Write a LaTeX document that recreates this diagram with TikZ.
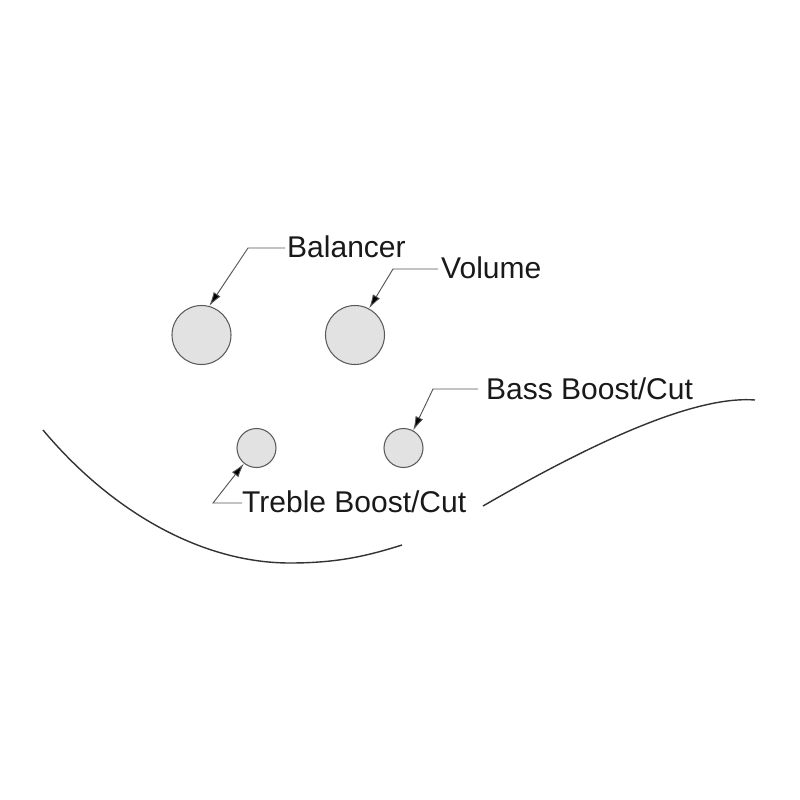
\documentclass[tikz,border=0pt]{standalone}
\usepackage{fontspec}
\setmainfont{Liberation Sans}
\usetikzlibrary{calc,arrows.meta}
\definecolor{knobfill}{HTML}{E2E2E2}
\definecolor{knobline}{HTML}{5A5A5A}
\definecolor{curveline}{HTML}{333333}
\definecolor{leadline}{HTML}{555555}
\begin{document}
\begin{tikzpicture}[x=0.03cm,y=-0.03cm,
  knob/.style={circle,draw=knobline,fill=knobfill,line width=0.9pt,inner sep=0pt},
  bigknob/.style={knob,minimum size=1.77cm},
  smallknob/.style={knob,minimum size=1.17cm},
  lbl/.style={anchor=base west,inner sep=0pt,font=\fontsize{25.6pt}{30pt}\selectfont,text=black!90},
  leader/.style={draw=leadline,line width=0.8pt,-{Latex[length=12pt,width=7pt,fill=black]}},
  body/.style={draw=curveline,line width=1.2pt}]
\useasboundingbox (0,0) rectangle (800,800);
% knobs
\node[bigknob] (bal) at (201.5,335) {};
\node[bigknob] (vol) at (355,335) {};
\node[smallknob] (tre) at (256.5,448) {};
\node[smallknob] (bas) at (403.5,448) {};
% labels
\node[lbl] (tbal) at (287,257) {Balancer};
\node[lbl] (tvol) at (441,278) {Volume};
\node[lbl] (tbas) at (486,399) {Bass Boost/Cut};
\node[lbl] (ttre) at (242,512) {Treble Boost/Cut};
% leaders
\draw[leader] ($(tbal.base west)+(-2,-9)$) -- ++(-37,0) -- (bal.75);
\draw[leader] ($(tvol.base west)+(-3,-9)$) -- ++(-45,0) -- (vol.62);
\draw[leader] ($(tbas.base west)+(-8,-10)$) -- ++(-45,0) -- (bas.61);
\draw[leader] ($(ttre.base west)+(0,-9)$) -- ++(-29,0) -- (tre.231);
% body outline
\draw[body] (43,430) .. controls (110,510) and (200,563) .. (290,563)
  .. controls (340,563) and (370,555) .. (402,545);
\draw[body] (483,506) .. controls (580,450) and (690,395) .. (755,400);
\end{tikzpicture}
\end{document}
